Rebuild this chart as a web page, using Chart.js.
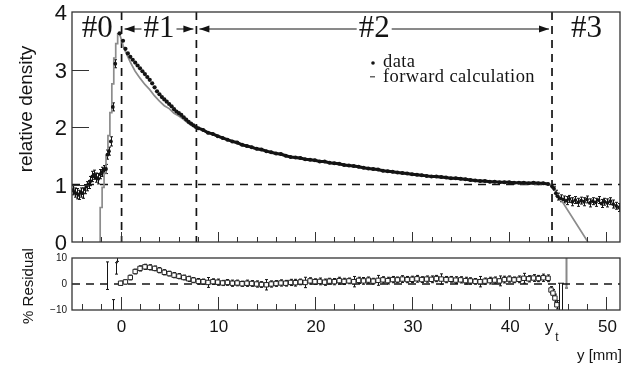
<!DOCTYPE html>
<html>
<head>
<meta charset="utf-8">
<style>
html,body{margin:0;padding:0;background:#fff;}
#wrap{position:relative;width:638px;height:367px;}
canvas{position:absolute;left:0;top:0;}
</style>
<script src="https://cdn.jsdelivr.net/npm/chart.js@4.4.1/dist/chart.umd.min.js"></script>
</head>
<body>
<div id="wrap">
  <canvas id="resChart" width="638" height="367"></canvas>
  <canvas id="topChart" width="638" height="367"></canvas>
</div>
<script>
// --- data ---
const yTicksTop = [0, 1, 2, 3, 4];
const yTicksRes = [-10, 0, 10];
const xTickLabels = [0, 10, 20, 30, 40, 50];
const bounds = [0, 7.7, 44.3];          // region borders (#0|#1|#2|#3)
const regionNames = ['#0', '#1', '#2', '#3'];

// region #0 (with error bars)
const preX = [-4.9,-4.7,-4.5,-4.3,-4.1,-3.9,-3.7,-3.5,-3.3,-3.1,-2.9,-2.7,-2.5,-2.3,-2.1,-1.9,-1.7,-1.5,-1.35,-1.2,-1.0,-0.8,-0.55];
const preY = [0.90,0.86,0.84,0.82,0.86,0.85,0.92,0.97,1.00,1.06,1.14,1.17,1.12,1.10,1.18,1.22,1.26,1.27,1.52,1.58,1.75,2.35,3.10];
const preErr = [0.08,0.08,0.09,0.08,0.08,0.09,0.08,0.08,0.07,0.08,0.09,0.08,0.08,0.09,0.08,0.08,0.07,0.08,0.08,0.07,0.08,0.07,0.07];

// region #1
const peakX = [-0.1,0.25,0.5,0.75,1.0,1.25,1.5,1.75,2.0,2.25,2.5,2.75,3.0,3.25,3.5,3.75,4.0,4.25,4.5,4.75,5.0,5.25,5.5,5.75,6.0,6.25,6.5,6.75,7.0,7.25,7.5,7.75];
const peakY = [3.63,3.50,3.36,3.28,3.22,3.17,3.12,3.07,3.02,2.97,2.92,2.87,2.82,2.76,2.69,2.62,2.57,2.52,2.48,2.44,2.40,2.36,2.31,2.27,2.24,2.21,2.17,2.13,2.09,2.06,2.03,2.00];

// region #2
const midX = [8.0,8.5,9.0,9.5,10.0,10.5,11.0,11.5,12.0,12.5,13.0,13.5,14.0,14.5,15.0,15.5,16.0,16.5,17.0,17.5,18.0,18.5,19.0,19.5,20.0,20.5,21.0,21.5,22.0,22.5,23.0,23.5,24.0,24.5,25.0,25.5,26.0,26.5,27.0,27.5,28.0,28.5,29.0,29.5,30.0,30.5,31.0,31.5,32.0,32.5,33.0,33.5,34.0,34.5,35.0,35.5,36.0,36.5,37.0,37.5,38.0,38.5,39.0,39.5,40.0,40.5,41.0,41.5,42.0,42.5,43.0,43.5,44.0];
const midY = [1.98,1.95,1.90,1.88,1.84,1.81,1.78,1.75,1.73,1.69,1.67,1.65,1.62,1.61,1.58,1.56,1.54,1.53,1.50,1.48,1.47,1.46,1.44,1.43,1.42,1.40,1.40,1.38,1.37,1.36,1.34,1.33,1.32,1.31,1.29,1.28,1.27,1.26,1.24,1.23,1.22,1.21,1.20,1.19,1.18,1.17,1.16,1.15,1.14,1.14,1.13,1.12,1.11,1.11,1.10,1.09,1.08,1.07,1.06,1.06,1.05,1.05,1.04,1.04,1.04,1.03,1.03,1.03,1.02,1.03,1.02,1.02,1.01];

// region #3 (with error bars)
const postX = [44.4,44.6,44.8,45.0,45.3,45.6,45.9,46.2,46.5,46.8,47.1,47.4,47.7,48.0,48.3,48.6,48.9,49.2,49.5,49.8,50.1,50.4,50.7,51.0,51.3];
const postY = [0.97,0.93,0.85,0.79,0.76,0.74,0.72,0.75,0.70,0.73,0.69,0.72,0.70,0.74,0.68,0.71,0.69,0.73,0.67,0.70,0.68,0.71,0.66,0.63,0.60];
const postErr = [0.03,0.03,0.05,0.06,0.06,0.06,0.07,0.06,0.07,0.06,0.07,0.06,0.07,0.06,0.07,0.06,0.07,0.06,0.07,0.06,0.07,0.06,0.07,0.06,0.07];

// forward calculation: staircase rise, then smooth decay
const riseX = [-2.1,-2.1,-1.9,-1.7,-1.5,-1.3,-1.1,-0.9,-0.7,-0.5,-0.3,-0.1];
const riseY = [0,0.3,0.6,0.95,1.2,1.5,1.85,2.25,2.75,3.2,3.45,3.62];
const calcX = [-0.1,0.25,0.5,1.0,1.5,2.0,2.5,3.0,3.5,4.0,4.5,5.0,5.5,6.0,6.5,7.0,7.5,8.0,9,10,12,14,16,18,20,22,24,26,28,30,32,34,36,38,40,42,44,44.3,44.6,48.1];
const calcY = [3.62,3.42,3.31,3.13,2.97,2.85,2.74,2.65,2.54,2.45,2.37,2.32,2.24,2.19,2.13,2.06,2.01,1.97,1.90,1.83,1.71,1.61,1.53,1.46,1.41,1.36,1.31,1.26,1.21,1.17,1.13,1.10,1.07,1.04,1.03,1.01,1.00,0.99,0.93,0];

// residuals [%]
const resX = [0,0.5,1,1.5,2,2.5,3,3.5,4,4.5,5,5.5,6,6.5,7,7.5,8,8.5,9,9.5,10,10.5,11,11.5,12,12.5,13,13.5,14,14.5,15,15.5,16,16.5,17,17.5,18,18.5,19,19.5,20,20.5,21,21.5,22,22.5,23,23.5,24,24.5,25,25.5,26,26.5,27,27.5,28,28.5,29,29.5,30,30.5,31,31.5,32,32.5,33,33.5,34,34.5,35,35.5,36,36.5,37,37.5,38,38.5,39,39.5,40,40.5,41,41.5,42,42.5,43,43.5,44,44.3,44.5,44.7,44.9];
const resY = [0.3,0.8,2.5,4.8,6.0,6.6,6.4,6.0,5.3,4.5,4.0,3.4,3.0,2.5,2.0,1.5,1.0,0.9,0.6,0.9,0.7,0.4,0.6,0.3,0.4,0.1,0.3,0.2,0.0,-0.2,-0.3,0.0,0.2,0.4,0.3,0.6,0.5,0.8,0.6,1.2,0.9,1.0,0.7,1.1,0.9,1.3,1.0,1.2,0.9,1.4,1.2,1.5,1.1,1.4,1.6,1.3,1.7,1.6,1.9,1.7,1.8,2.0,1.7,1.9,1.8,2.1,1.9,1.7,1.8,1.5,1.6,1.3,1.2,1.0,0.9,1.1,1.3,1.5,1.2,1.7,1.9,1.6,1.8,2.2,2.0,2.3,2.1,2.4,2.2,-2.3,-3.5,-5.4,-8.0];
const resErr = [0.8,0.8,0.9,0.9,1.0,1.0,1.0,0.9,1.0,1.0,0.9,1.0,1.0,0.9,1.0,1.0,1.1,1.0,1.9,1.1,1.2,1.0,1.1,1.2,1.1,1.0,1.2,1.1,1.2,1.1,2.0,1.2,1.1,1.2,1.1,1.2,1.3,1.1,2.0,1.2,1.1,1.3,1.2,1.1,1.2,1.3,1.2,1.1,2.0,1.2,1.3,1.2,1.1,1.9,1.2,1.3,1.2,1.1,1.3,1.2,1.2,1.3,1.1,1.2,1.3,1.2,2.0,1.2,1.1,1.3,1.2,1.3,1.2,1.1,2.0,1.2,1.3,1.2,1.9,1.3,1.2,1.1,1.3,1.9,1.2,1.3,1.2,1.4,1.3,1.3,1.4,1.5,1.6];
// residual bars drawn without marker
const loneX = [-1.35,-0.8,-0.5,-0.35,45.1,45.4];
const loneY = [3.2,-9.0,6.0,10.5,-5.5,-5.5];
const loneErr = [5.3,3.0,2.2,1.8,5.8,5.8];
const greyX = [45.8];
const greyY = [6.0];
const greyErr = [7.5];

// --- helpers ---
const SANS = '"Liberation Sans", Arial, sans-serif';
const SERIF = '"Liberation Serif", "Times New Roman", serif';
const INK = '#141414';
const GREY = '#8c8c8c';
const pts = (xs, ys) => xs.map((x, i) => ({ x, y: ys[i] }));

const errorBars = {
  id: 'errorBars',
  beforeDatasetsDraw(chart){
    const { ctx, chartArea: a, scales: { x, y } } = chart;
    ctx.save();
    ctx.beginPath(); ctx.rect(a.left, a.top, a.right - a.left, a.bottom - a.top); ctx.clip();
    chart.data.datasets.forEach(ds => {
      if(!ds.errorBars) return;
      ctx.strokeStyle = ds.errorColor || INK;
      ctx.lineWidth = ds.errorWidth || 1;
      ds.data.forEach((p, i) => {
        const e = ds.errorBars[i];
        const px = Math.round(x.getPixelForValue(p.x)) + 0.5;
        const y1 = y.getPixelForValue(p.y - e), y2 = y.getPixelForValue(p.y + e);
        ctx.beginPath();
        ctx.moveTo(px, y1); ctx.lineTo(px, y2);
        ctx.moveTo(px - 1.5, y1); ctx.lineTo(px + 1.5, y1);
        ctx.moveTo(px - 1.5, y2); ctx.lineTo(px + 1.5, y2);
        ctx.stroke();
      });
    });
    ctx.restore();
  }
};

const guides = {
  id: 'guides',
  beforeDatasetsDraw(chart, args, o){
    const { ctx, chartArea: a, scales: { x, y } } = chart;
    ctx.save();
    ctx.strokeStyle = INK; ctx.lineWidth = 1.7; ctx.setLineDash([8, 6]);
    (o.h || []).forEach(v => {
      const py = y.getPixelForValue(v);
      ctx.beginPath(); ctx.moveTo(a.left, py); ctx.lineTo(a.right, py); ctx.stroke();
    });
    (o.v || []).forEach(v => {
      const px = x.getPixelForValue(v) + 1;
      ctx.beginPath(); ctx.moveTo(px, a.top); ctx.lineTo(px, a.bottom); ctx.stroke();
    });
    ctx.restore();
  }
};

const frame = {
  id: 'frame',
  afterDatasetsDraw(chart, args, o){
    const { ctx, chartArea: a, scales: { x, y } } = chart;
    ctx.save();
    ctx.strokeStyle = '#333'; ctx.lineWidth = 1.3;
    ctx.strokeRect(a.left, a.top, a.right - a.left, a.bottom - a.top);
    ctx.lineWidth = 1;
    ctx.beginPath();
    for(let v = -4; v <= x.max; v += 2){
      const px = Math.round(x.getPixelForValue(v)) + 0.5;
      const len = (v % 10 === 0) ? o.majorLen : o.minorLen;
      ctx.moveTo(px, a.bottom); ctx.lineTo(px, a.bottom - len);
    }
    (o.yTicks || []).forEach(v => {
      const py = Math.round(y.getPixelForValue(v)) + 0.5;
      ctx.moveTo(a.left, py); ctx.lineTo(a.left + o.yLen, py);
    });
    ctx.stroke();
    ctx.restore();
  }
};

function arrowHead(ctx, tipX, yy, dir){
  ctx.beginPath();
  ctx.moveTo(tipX, yy);
  ctx.lineTo(tipX - dir * 10, yy - 3.5);
  ctx.lineTo(tipX - dir * 10, yy + 3.5);
  ctx.closePath(); ctx.fill();
}

const topText = {
  id: 'topText',
  afterDraw(chart){
    const { ctx, scales: { x, y } } = chart;
    ctx.save();
    ctx.fillStyle = INK; ctx.strokeStyle = INK;
    // y tick labels
    ctx.font = `22px ${SANS}`; ctx.textAlign = 'right'; ctx.textBaseline = 'middle';
    yTicksTop.forEach(v => ctx.fillText(String(v), 67, y.getPixelForValue(v) + 2));
    // y title
    ctx.save();
    ctx.translate(27, 109); ctx.rotate(-Math.PI / 2);
    ctx.font = `19px ${SANS}`; ctx.textAlign = 'center'; ctx.textBaseline = 'middle';
    ctx.fillText('relative density', 0, 0);
    ctx.restore();
    // region labels and arrows
    const edges = [x.min, ...bounds, x.max];
    const ay = 29;
    ctx.font = `31px ${SERIF}`; ctx.textAlign = 'center'; ctx.textBaseline = 'middle';
    regionNames.forEach((name, i) => {
      const l = x.getPixelForValue(edges[i]) + 1, r = x.getPixelForValue(edges[i + 1]) + 1;
      const cx = (l + r) / 2;
      ctx.fillText(name, cx, ay);
      if(i === 1 || i === 2){
        const w = ctx.measureText(name).width;
        ctx.lineWidth = 1;
        ctx.beginPath();
        ctx.moveTo(l + 3, ay); ctx.lineTo(cx - w / 2 - 2, ay);
        ctx.moveTo(cx + w / 2 + 2, ay); ctx.lineTo(r - 3, ay);
        ctx.stroke();
        arrowHead(ctx, l + 3, ay, -1);
        arrowHead(ctx, r - 3, ay, 1);
      }
    });
    // legend
    ctx.font = `18.5px ${SERIF}`; ctx.textAlign = 'left'; ctx.textBaseline = 'alphabetic';
    ctx.letterSpacing = '0.4px';
    ctx.beginPath(); ctx.arc(373, 63, 1.8, 0, Math.PI * 2); ctx.fill();
    ctx.fillText('data', 383, 67);
    ctx.fillStyle = '#666';
    ctx.fillRect(370, 76, 5, 1.5);
    ctx.fillStyle = INK;
    ctx.fillText('forward calculation', 383, 82);
    ctx.restore();
  }
};

const resText = {
  id: 'resText',
  afterDraw(chart){
    const { ctx, scales: { x, y } } = chart;
    ctx.save();
    ctx.fillStyle = INK;
    ctx.font = `10px ${SANS}`; ctx.textAlign = 'right'; ctx.textBaseline = 'middle';
    yTicksRes.forEach(v => ctx.fillText(v < 0 ? '\u2212' + Math.abs(v) : String(v), 67, y.getPixelForValue(v)));
    ctx.font = `17px ${SANS}`; ctx.textAlign = 'center';
    xTickLabels.forEach(v => ctx.fillText(String(v), x.getPixelForValue(v) + 1, 327));
    // y_t label
    ctx.fillText('y', x.getPixelForValue(bounds[2]) - 2, 327);
    ctx.font = `12px ${SANS}`;
    ctx.fillText('t', x.getPixelForValue(bounds[2]) + 6, 338);
    // axis titles
    ctx.font = `15px ${SANS}`; ctx.textAlign = 'right'; ctx.textBaseline = 'alphabetic';
    ctx.fillText('y [mm]', 622, 360);
    ctx.save();
    ctx.translate(29, 286); ctx.rotate(-Math.PI / 2);
    ctx.textAlign = 'center'; ctx.textBaseline = 'middle';
    ctx.fillText('% Residual', 0, 0);
    ctx.restore();
    ctx.restore();
  }
};

const xScale = { type: 'linear', min: -5, max: 51.4, display: false };

new Chart(document.getElementById('topChart'), {
  type: 'scatter',
  data: {
    datasets: [
      { data: pts(preX, preY), errorBars: preErr, pointRadius: 1.9, pointBackgroundColor: INK, pointBorderWidth: 0, order: 1 },
      { data: pts(peakX, peakY), pointRadius: 2.1, pointBackgroundColor: INK, pointBorderWidth: 0, order: 1 },
      { data: pts(midX, midY), showLine: true, borderColor: INK, borderWidth: 3, pointRadius: 2, pointBackgroundColor: INK, pointBorderWidth: 0, order: 1 },
      { data: pts(postX, postY), errorBars: postErr, pointRadius: 1.9, pointBackgroundColor: INK, pointBorderWidth: 0, order: 1 },
      { data: pts(riseX, riseY), showLine: true, stepped: 'after', borderColor: GREY, borderWidth: 1.7, pointRadius: 0, order: 5 },
      { data: pts(calcX, calcY), showLine: true, borderColor: GREY, borderWidth: 1.7, pointRadius: 0, order: 5 }
    ]
  },
  options: {
    responsive: false, animation: false, devicePixelRatio: 1,
    layout: { padding: { left: 72, right: 18, top: 12, bottom: 125 } },
    scales: { x: xScale, y: { type: 'linear', min: 0, max: 4, display: false } },
    plugins: {
      legend: { display: false }, tooltip: { enabled: false },
      guides: { h: [1], v: bounds },
      frame: { minorLen: 5, majorLen: 10, yTicks: [1, 2, 3], yLen: 17 }
    }
  },
  plugins: [errorBars, guides, frame, topText]
});

new Chart(document.getElementById('resChart'), {
  type: 'scatter',
  data: {
    datasets: [
      { data: pts(resX, resY), errorBars: resErr, pointStyle: 'rect', pointRadius: 3.1, pointBackgroundColor: '#fff', pointBorderColor: '#222', pointBorderWidth: 1 },
      { data: pts(loneX, loneY), errorBars: loneErr, pointRadius: 0 },
      { data: pts(greyX, greyY), errorBars: greyErr, errorColor: '#888', errorWidth: 2, pointRadius: 0 }
    ]
  },
  options: {
    responsive: false, animation: false, devicePixelRatio: 1,
    layout: { padding: { left: 72, right: 18, top: 258, bottom: 57 } },
    scales: { x: xScale, y: { type: 'linear', min: -10, max: 10, display: false } },
    plugins: {
      legend: { display: false }, tooltip: { enabled: false },
      guides: { h: [0], v: [] },
      frame: { minorLen: 6, majorLen: 13, yTicks: [], yLen: 0 }
    }
  },
  plugins: [errorBars, guides, frame, resText]
});
</script>
</body>
</html>
